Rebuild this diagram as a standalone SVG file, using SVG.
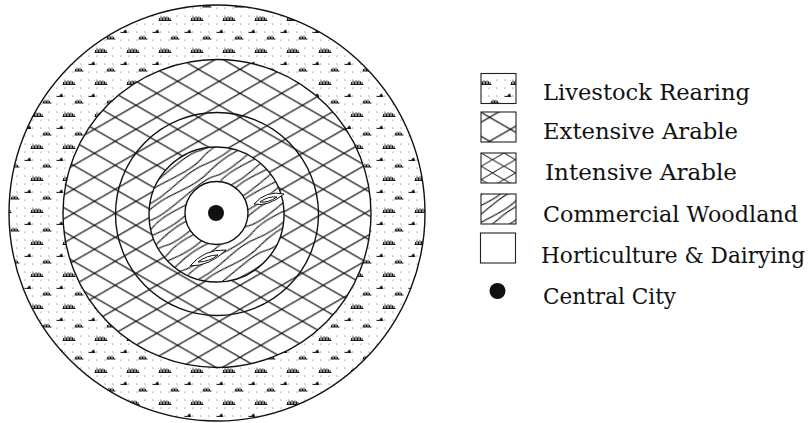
<svg xmlns="http://www.w3.org/2000/svg" width="810" height="423" viewBox="0 0 810 423">
<style>
.ring{stroke:#111;stroke-width:1.4}
.box{stroke:#222;stroke-width:1.1}
.lbl{font-family:"DejaVu Serif","Liberation Serif",serif;font-size:22px;fill:#111}
.h{stroke:#151515;stroke-width:1.2;fill:none}
</style>
<defs>
<pattern id="pLive" patternUnits="userSpaceOnUse" x="21" y="14" width="32" height="32">
<path d="M4,2h.01M12,2h.01M28,2h.01M4,10h.01M12,10h.01M20,10h.01M28,10h.01M20,18h.01M28,18h.01M4,26h.01M12,26h.01M20,26h.01M4,18h.01M12,18h.01" stroke="#555" stroke-width="1.2" stroke-linecap="round" fill="none"/>
<path d="M9.5,6.5H22.5M10.5,6.5V4M12,6.5V2.8M13.5,6.5V3.5M15,6.5V2.3M16.5,6.5V3.2M18,6.5V2.5M19.5,6.5V3.3M21,6.5V4" stroke="#1a1a1a" stroke-width="1" fill="none"/>
<path d="M21.5,25H30.5M22.5,25V23M24,25V21.8M25.5,25V22.5M27,25V21.8M28.5,25V23" stroke="#1a1a1a" stroke-width="1" fill="none"/>
<path d="M3.5,18.5H10M6,18.5L8.5,15.8L9.8,18.5Z" stroke="#1a1a1a" stroke-width="0.9" fill="#1a1a1a"/>
</pattern>
<pattern id="pHatch" patternUnits="userSpaceOnUse" x="32" y="21.3" width="41.6" height="24">
<path class="h" d="M-1,-0.58L42.6,24.58M-1,24.58L42.6,-0.58"/>
</pattern>
<pattern id="pHatch2" patternUnits="userSpaceOnUse" x="11.2" y="9.3" width="41.6" height="24">
<path class="h" d="M-1,-0.58L42.6,24.58M-1,24.58L42.6,-0.58"/>
</pattern>
<pattern id="pHatchDense" patternUnits="userSpaceOnUse" x="481" y="153" width="23" height="13.3">
<path d="M-1,-0.58L24,13.9M-1,13.9L24,-0.58" stroke="#151515" stroke-width="1" fill="none"/>
</pattern>
<pattern id="pWood" patternUnits="userSpaceOnUse" width="30" height="80" patternTransform="rotate(56)">
<path d="M3.75,0C11,22 -3,58 3.75,80M11.25,0C5,26 18,50 11.25,80M18.75,0C26,30 12,46 18.75,80M26.25,0C20,16 33,62 26.25,80" stroke="#111" stroke-width="1.1" fill="none"/>
</pattern>
</defs>

<g id="zone-livestock-rearing">
<circle cx="217" cy="213" r="208" fill="#fff"/>
<circle class="ring" cx="217" cy="213" r="208" fill="url(#pLive)"/>
</g>
<g id="zone-extensive-arable">
<circle cx="217" cy="213.5" r="154" fill="#fff"/>
<circle class="ring" cx="217" cy="213.5" r="154" fill="url(#pHatch)"/>
</g>
<g id="zone-intensive-arable">
<circle cx="217" cy="214" r="101.5" fill="#fff"/>
<circle class="ring" cx="217" cy="214" r="101.5" fill="url(#pHatch2)"/>
</g>
<g id="zone-commercial-woodland">
<circle cx="216.5" cy="214.5" r="67.5" fill="#fff"/>
<circle class="ring" cx="216.5" cy="214.5" r="67.5" fill="url(#pWood)"/>
<g fill="#fff" stroke="#111" stroke-width="1">
<path d="M254,204Q266,190 284,194Q268,207 254,204Z"/>
<path d="M260,202Q268,196 277,197Q268,203 260,202Z"/>
<path d="M190,266Q204,249 226,250Q210,266 190,266Z"/>
<path d="M198,262Q207,255 218,255Q209,262 198,262Z"/>
</g>
</g>
<g id="zone-horticulture-dairying">
<circle class="ring" cx="216.5" cy="213" r="31.5" fill="#fff"/>
</g>
<g id="central-city">
<circle cx="216" cy="213" r="8" fill="#111"/>
</g>

<g id="connectors"></g>

<g id="legend-livestock">
<rect class="box" x="481" y="73.5" width="35" height="30" fill="url(#pLive)"/>
<text class="lbl" x="543" y="100" textLength="207" lengthAdjust="spacingAndGlyphs">Livestock Rearing</text>
</g>
<g id="legend-extensive">
<rect class="box" x="481" y="112" width="35" height="30" fill="url(#pHatch)"/>
<text class="lbl" x="543" y="139" textLength="195" lengthAdjust="spacingAndGlyphs">Extensive Arable</text>
</g>
<g id="legend-intensive">
<rect class="box" x="481" y="153" width="35" height="30" fill="url(#pHatchDense)"/>
<text class="lbl" x="545" y="180" textLength="192" lengthAdjust="spacingAndGlyphs">Intensive Arable</text>
</g>
<g id="legend-woodland">
<rect class="box" x="481" y="194" width="35" height="30" fill="url(#pWood)"/>
<text class="lbl" x="543" y="221.5" textLength="255" lengthAdjust="spacingAndGlyphs">Commercial Woodland</text>
</g>
<g id="legend-horticulture">
<rect class="box" x="480.5" y="233" width="35" height="30" fill="#fff"/>
<text class="lbl" x="541" y="262.5" textLength="264" lengthAdjust="spacingAndGlyphs">Horticulture &amp; Dairying</text>
</g>
<g id="legend-city">
<circle cx="497.5" cy="291" r="8" fill="#111"/>
<text class="lbl" x="543" y="303.5" textLength="133" lengthAdjust="spacingAndGlyphs">Central City</text>
</g>
</svg>
